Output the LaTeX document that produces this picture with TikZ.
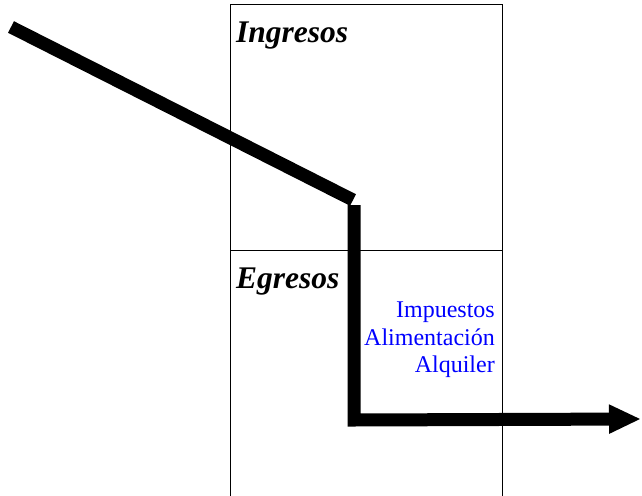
\documentclass[tikz,border=0pt]{standalone}
\usepackage{fontspec}
\setmainfont{Liberation Serif}
\usetikzlibrary{arrows.meta}
\begin{document}
\begin{tikzpicture}[x=1pt,y=-1pt,
  frame/.style={line width=1pt,draw=black},
  flow/.style={line width=13pt,draw=black,line join=miter},
  title/.style={inner sep=0pt,anchor=base west,font=\fontsize{31.5}{31.5}\selectfont\bfseries\itshape},
  item/.style={inner sep=0pt,anchor=base east,text=blue,font=\fontsize{24}{24}\selectfont}]
\useasboundingbox (0,0) rectangle (642,495);
% frame
\draw[frame] (230,500) -- (230,5) -- (502,5) -- (502,500);
\draw[frame] (230,250) -- (502,250);
% texts
\node[title] (ing) at (236,43) {Ingresos};
\node[title] (egr) at (236,288) {Egresos};
\node[item] (imp) at (495,317) {Impuestos};
\node[item] (ali) at (495,345) {Alimentación};
\node[item] (alq) at (495,372) {Alquiler};
% flow
\coordinate (a) at (11,27);
\coordinate (b) at (353,200);
\coordinate (c) at (354,205);
\coordinate (d) at (354,420);
\coordinate (e) at (641,419);
\draw[flow] (a) -- (b);
\draw[flow,-{Triangle[length=32pt,width=27pt]}] (c) -- (d) -- (e);
\end{tikzpicture}
\end{document}
